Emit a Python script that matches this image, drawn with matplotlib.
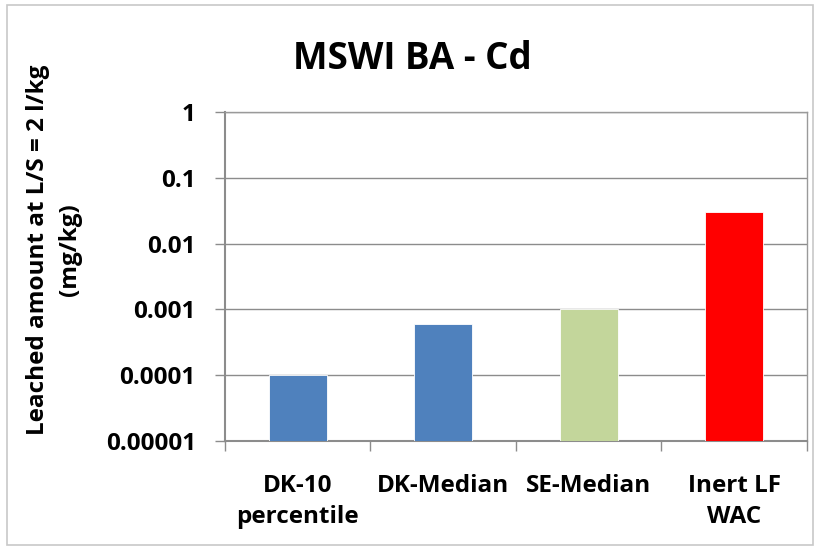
import matplotlib
matplotlib.use("Agg")
import matplotlib.pyplot as plt
from matplotlib.patches import Rectangle
from matplotlib.ticker import FixedLocator, NullLocator

categories = ["DK-10\npercentile", "DK-Median", "SE-Median", "Inert LF\nWAC"]
values = [0.0001, 0.0006, 0.001, 0.03]
colors = ["#4F81BD", "#4F81BD", "#C3D69B", "#FF0000"]
ytick_values = [1e-5, 1e-4, 1e-3, 1e-2, 1e-1, 1]
ytick_labels = ["0.00001", "0.0001", "0.001", "0.01", "0.1", "1"]

plt.rcParams["font.family"] = ["Open Sans", "DejaVu Sans"]

fig = plt.figure(figsize=(8.19, 5.49), dpi=100)
ax = fig.add_axes([0.2747, 0.1967, 0.7106, 0.5993])

x = list(range(len(categories)))
ax.bar(x, values, width=0.4, color=colors, edgecolor="white", linewidth=0.6,
       zorder=3)
ax.set_yscale("log")
ax.set_ylim(1e-5, 1)
ax.set_xlim(-0.5, len(categories) - 0.5)

ax.yaxis.set_major_locator(FixedLocator(ytick_values))
ax.yaxis.set_minor_locator(NullLocator())
ax.set_yticklabels(ytick_labels, fontsize=17.5, fontweight="bold")
ax.grid(axis="y", color="#8c8c8c", linewidth=1.0, zorder=0)

ax.set_xticks(x)
ax.set_xticklabels(categories, fontsize=17.5, fontweight="bold", linespacing=1.35)
ax.tick_params(axis="x", which="major", length=0, pad=24)
ax.set_xticks([i - 0.5 for i in range(len(categories) + 1)], minor=True)
ax.tick_params(axis="x", which="minor", length=7, color="#8c8c8c", width=1.0)
ax.tick_params(axis="y", which="major", length=7, color="#8c8c8c", width=1.0, pad=14)

for side in ["top", "right"]:
    ax.spines[side].set_color("#9a9a9a")
    ax.spines[side].set_linewidth(1.0)
for side in ["left", "bottom"]:
    ax.spines[side].set_color("#8c8c8c")
    ax.spines[side].set_linewidth(1.5)

fig.text(0.066, 0.545, "Leached amount at L/S = 2 l/kg\n(mg/kg)", rotation=90,
         ha="center", va="center", fontsize=17.5, fontweight="bold",
         linespacing=1.4, multialignment="center")

fig.text(0.504, 0.893, "MSWI BA - Cd", ha="center", va="center",
         fontsize=26.5, fontweight="bold")

fig.patches.append(Rectangle((0.008, 0.008), 0.985, 0.982, transform=fig.transFigure,
                             fill=False, edgecolor="#c8c8c8", linewidth=1.2))

fig.savefig("out.png", dpi=100)
